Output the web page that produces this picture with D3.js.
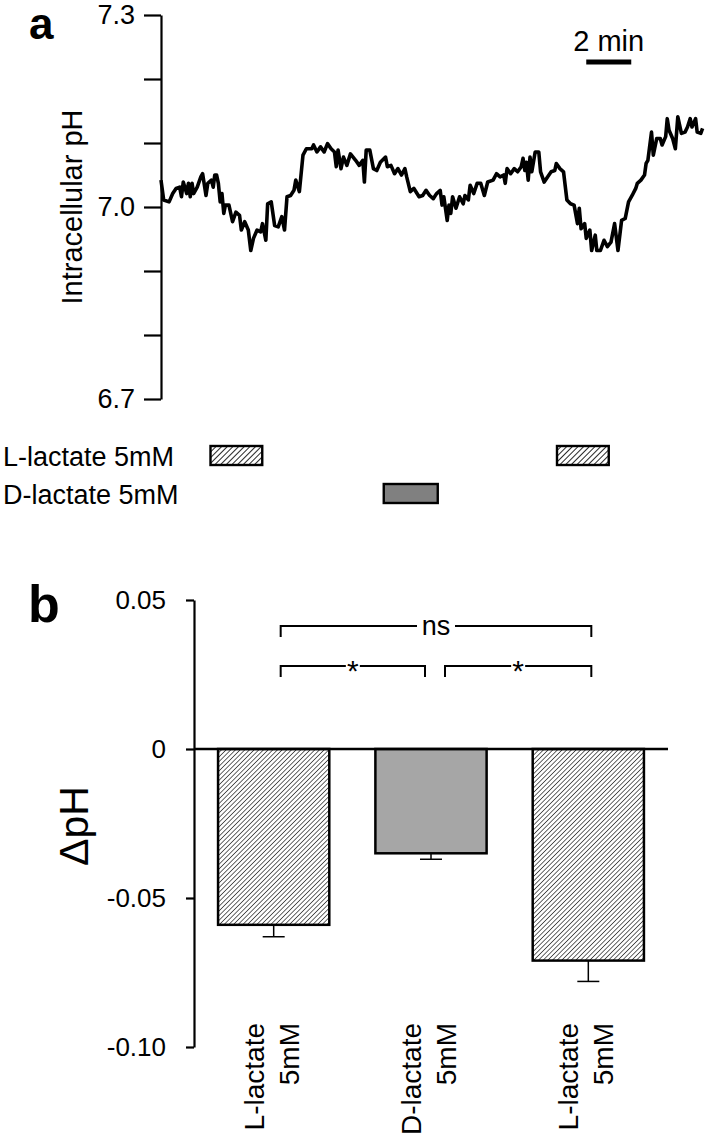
<!DOCTYPE html>
<html>
<head>
<meta charset="utf-8" />
<title>Intracellular pH</title>
<style>
  body { margin: 0; background: #fff; }
  svg { display: block; font-family: "Liberation Sans", Arial, sans-serif; }
</style>
</head>
<body>
<svg width="707" height="1139"></svg>
<script src="https://cdn.jsdelivr.net/npm/d3@7"></script>
<script>

// ---- panel a : pH trace (time in min, pH) ----
var traceTime = [0.00,0.12,0.36,0.52,0.67,0.83,0.91,0.99,1.14,1.22,1.30,1.38,1.45,1.61,1.77,1.85,2.00,2.08,2.24,2.32,
  2.39,2.47,2.55,2.63,2.71,2.79,2.86,3.02,3.18,3.33,3.49,3.57,3.72,3.88,3.99,4.11,4.27,4.43,4.51,4.66,
  4.74,4.90,5.05,5.21,5.37,5.49,5.60,5.76,5.91,5.99,6.15,6.31,6.46,6.70,6.78,6.93,7.09,7.25,7.40,7.56,
  7.71,7.79,7.87,8.00,8.11,8.26,8.42,8.65,8.81,8.97,9.04,9.12,9.28,9.44,9.59,9.75,9.98,10.06,10.22,10.38,
  10.53,10.69,10.84,10.92,11.08,11.24,11.47,11.63,11.78,11.94,12.10,12.25,12.41,12.49,12.57,12.72,12.80,12.88,12.96,13.11,
  13.27,13.43,13.51,13.66,13.74,13.90,14.05,14.21,14.37,14.52,14.76,14.91,15.07,15.23,15.30,15.38,15.54,15.70,15.85,16.01,
  16.09,16.17,16.24,16.32,16.40,16.48,16.63,16.79,16.87,17.03,17.18,17.34,17.50,17.57,17.73,17.89,18.04,18.20,18.36,18.51,
  18.59,18.67,18.83,18.90,19.06,19.14,19.30,19.37,19.53,19.69,19.84,20.00,20.16,20.31,20.47,20.63,20.78,20.94,21.10,21.17,
  21.33,21.49,21.56,21.64,21.80,21.88,22.03,22.19,22.27,22.43,22.50,22.58,22.74,22.86,22.97,23.13,23.29,23.40,23.52,23.60,
  23.76,23.83,23.99,24.07];
var tracePH = [7.042,7.011,7.008,7.021,7.029,7.031,7.016,7.039,7.021,7.037,7.016,7.037,7.021,7.031,7.047,7.052,7.018,7.037,7.042,7.031,
  7.050,7.050,7.037,7.008,7.021,6.990,7.003,7.003,6.977,6.992,6.987,6.964,6.977,6.964,6.932,6.951,6.964,6.961,6.974,6.948,
  7.005,7.008,6.971,6.969,6.985,6.964,7.016,7.018,7.026,7.042,7.024,7.081,7.091,7.091,7.097,7.086,7.094,7.086,7.099,7.091,
  7.086,7.063,7.089,7.060,7.078,7.065,7.083,7.073,7.065,7.073,7.039,7.089,7.089,7.060,7.057,7.070,7.078,7.063,7.065,7.052,
  7.060,7.050,7.060,7.047,7.024,7.029,7.016,7.018,7.026,7.018,7.013,7.021,7.026,7.003,7.016,6.979,7.003,6.990,7.016,6.998,
  7.016,7.005,7.018,7.011,7.034,7.021,7.037,7.037,7.018,7.039,7.042,7.052,7.047,7.050,7.037,7.060,7.052,7.060,7.055,7.063,
  7.076,7.057,7.070,7.042,7.078,7.055,7.086,7.086,7.055,7.039,7.047,7.055,7.057,7.068,7.060,7.055,7.011,7.005,7.003,6.974,
  6.998,6.966,6.974,6.951,6.964,6.932,6.956,6.932,6.932,6.948,6.938,6.945,6.974,6.932,6.979,6.982,7.008,7.018,7.029,7.037,
  7.042,7.050,7.068,7.073,7.117,7.081,7.107,7.107,7.097,7.110,7.138,7.120,7.107,7.091,7.141,7.115,7.117,7.125,7.138,7.125,
  7.138,7.117,7.115,7.123];

var phTicks = [7.3, 7.2, 7.1, 7.0, 6.9, 6.8, 6.7];
var phLabels = { '7.3': '7.3', '7': '7.0', '6.7': '6.7' };
var lLactatePeriods = [[2.2, 4.5], [17.6, 19.9]];
var dLactatePeriods = [[9.9, 12.3]];
var scaleBarMin = 2;

// ---- panel b : delta pH bars ----
var barNames = [['L-lactate', '5mM'], ['D-lactate', '5mM'], ['L-lactate', '5mM']];
var barMeans = [-0.059, -0.035, -0.071];
var barSEM = [0.004, 0.002, 0.007];
var dphTicks = [0.05, 0, -0.05, -0.10];
var dphLabels = ['0.05', '0', '-0.05', '-0.10'];
var comparisons = [[0, 2, 'ns'], [0, 1, '*'], [1, 2, '*']];

var svg = d3.select('svg');

// patterns
var defs = svg.append('defs');
function hatch(id, gap, sw) {
    var p = defs.append('pattern')
        .attr('id', id)
        .attr('patternUnits', 'userSpaceOnUse')
        .attr('width', gap).attr('height', gap)
        .attr('patternTransform', 'rotate(45)');
    p.append('rect').attr('width', gap).attr('height', gap).attr('fill', '#fff');
    p.append('line').attr('x1', 0).attr('y1', 0).attr('x2', 0).attr('y2', gap)
        .attr('stroke', '#000').attr('stroke-width', sw);
}
hatch('hatchBar', 3.3, 1.2);
hatch('hatchBox', 4, 1.7);

// ===== panel a =====
var x = d3.scaleLinear().domain([0, 24]).range([161, 701]);
var y = d3.scaleLinear().domain([6.7, 7.3]).range([399, 15]);

svg.append('text').attr('x', 29).attr('y', 39)
    .attr('font-size', 44).attr('font-weight', 'bold').text('a');

var axA = svg.append('g')
    .attr('transform', 'translate(161,0)')
    .call(d3.axisLeft(y).tickValues(phTicks).tickSize(17).tickSizeOuter(0).tickPadding(9)
        .tickFormat(function (d) { return phLabels[String(+d.toFixed(1))] || ''; }));
axA.select('.domain').attr('stroke-width', 2.2);
axA.selectAll('.tick line').attr('stroke-width', 2.2);
axA.selectAll('text').attr('font-size', 27).attr('font-family', null).attr('fill', '#000');

svg.append('text')
    .attr('transform', 'translate(82,207) rotate(-90)')
    .attr('text-anchor', 'middle').attr('font-size', 29)
    .text('Intracellular pH');

var line = d3.line()
    .x(function (d) { return x(d[0]); })
    .y(function (d) { return y(d[1]); });

svg.append('path')
    .datum(d3.zip(traceTime, tracePH))
    .attr('d', line)
    .attr('fill', 'none').attr('stroke', '#000')
    .attr('stroke-width', 3.6).attr('stroke-linejoin', 'round');

// scale bar
svg.append('line')
    .attr('x1', x(18.9)).attr('x2', x(18.9 + scaleBarMin))
    .attr('y1', 62).attr('y2', 62)
    .attr('stroke', '#000').attr('stroke-width', 5);
svg.append('text').attr('x', x(18.9 + scaleBarMin / 2)).attr('y', 51)
    .attr('text-anchor', 'middle').attr('font-size', 29).text(scaleBarMin + ' min');

// application legend
svg.append('text').attr('x', 3).attr('y', 466).attr('font-size', 27).text('L-lactate 5mM');
svg.append('text').attr('x', 3).attr('y', 504).attr('font-size', 27).text('D-lactate 5mM');

svg.selectAll('rect.lbox').data(lLactatePeriods).enter().append('rect')
    .attr('class', 'lbox')
    .attr('x', function (d) { return x(d[0]); })
    .attr('width', function (d) { return x(d[1]) - x(d[0]); })
    .attr('y', 446).attr('height', 19)
    .attr('fill', 'url(#hatchBox)').attr('stroke', '#000').attr('stroke-width', 2.4);

svg.selectAll('rect.dbox').data(dLactatePeriods).enter().append('rect')
    .attr('class', 'dbox')
    .attr('x', function (d) { return x(d[0]); })
    .attr('width', function (d) { return x(d[1]) - x(d[0]); })
    .attr('y', 484).attr('height', 19)
    .attr('fill', '#808080').attr('stroke', '#000').attr('stroke-width', 2.4);

// ===== panel b =====
var xb = d3.scaleBand().domain(d3.range(barMeans.length))
    .range([194, 668]).paddingInner(0.293).paddingOuter(0.153);
var yb = d3.scaleLinear().domain([-0.10, 0.05]).range([1047, 600]);

svg.append('text').attr('x', 28).attr('y', 622)
    .attr('font-size', 52).attr('font-weight', 'bold').text('b');

var axB = svg.append('g')
    .attr('transform', 'translate(194,0)')
    .call(d3.axisLeft(yb).tickValues(dphTicks).tickSize(8).tickSizeOuter(0).tickPadding(20)
        .tickFormat(function (d, i) { return dphLabels[i]; }));
axB.select('.domain').attr('stroke-width', 2.2);
axB.selectAll('.tick line').attr('stroke-width', 2.2);
axB.selectAll('text').attr('font-size', 26).attr('font-family', null).attr('fill', '#000');

svg.append('text')
    .attr('transform', 'translate(88,826) rotate(-90)')
    .attr('text-anchor', 'middle').attr('font-size', 41)
    .text('\u0394pH');

var bars = svg.selectAll('g.bar').data(barMeans).enter().append('g').attr('class', 'bar');

bars.append('rect')
    .attr('x', function (d, i) { return xb(i); })
    .attr('width', xb.bandwidth())
    .attr('y', yb(0))
    .attr('height', function (d) { return yb(d) - yb(0); })
    .attr('fill', function (d, i) { return i === 1 ? '#a6a6a6' : 'url(#hatchBar)'; })
    .attr('stroke', '#000').attr('stroke-width', 2.5);

// error bars (downward)
bars.append('line')
    .attr('x1', function (d, i) { return xb(i) + xb.bandwidth() / 2; })
    .attr('x2', function (d, i) { return xb(i) + xb.bandwidth() / 2; })
    .attr('y1', function (d) { return yb(d); })
    .attr('y2', function (d, i) { return yb(d - barSEM[i]); })
    .attr('stroke', '#000').attr('stroke-width', 1.5);
bars.append('line')
    .attr('x1', function (d, i) { return xb(i) + xb.bandwidth() / 2 - 11; })
    .attr('x2', function (d, i) { return xb(i) + xb.bandwidth() / 2 + 11; })
    .attr('y1', function (d, i) { return yb(d - barSEM[i]); })
    .attr('y2', function (d, i) { return yb(d - barSEM[i]); })
    .attr('stroke', '#000').attr('stroke-width', 1.5);

// zero line
svg.append('line')
    .attr('x1', 194).attr('x2', 668)
    .attr('y1', yb(0)).attr('y2', yb(0))
    .attr('stroke', '#000').attr('stroke-width', 2.5);

// category labels
bars.each(function (d, i) {
    var cx = xb(i) + xb.bandwidth() / 2;
    var t = d3.select(this).append('text')
        .attr('transform', 'translate(' + (cx - 10) + ',1023) rotate(-90)')
        .attr('text-anchor', 'end').attr('font-size', 28);
    t.append('tspan').attr('x', 0).attr('y', 0).text(barNames[i][0]);
    t.append('tspan').attr('x', 0).attr('y', 35).text(barNames[i][1]);
});

// significance brackets
function cx(i) { return xb(i) + xb.bandwidth() / 2; }
var brY = [626, 666];
comparisons.forEach(function (c) {
    var level = c[2] === 'ns' ? 0 : 1;
    var x1 = cx(c[0]) + (c[0] === 1 ? 14 : 7);
    var x2 = cx(c[1]) + (c[1] === 1 ? -6 : 3);
    var yy = brY[level];
    var mid = (x1 + x2) / 2;
    var gap = c[2] === 'ns' ? 19 : 7;
    var g = svg.append('g').attr('fill', 'none').attr('stroke', '#000').attr('stroke-width', 2);
    g.append('path').attr('d', 'M' + x1 + ',' + (yy + 11) + 'V' + yy + 'H' + (mid - gap));
    g.append('path').attr('d', 'M' + (mid + gap) + ',' + yy + 'H' + x2 + 'V' + (yy + 11));
    svg.append('text').attr('x', mid).attr('y', c[2] === 'ns' ? yy + 9 : yy + 15)
        .attr('text-anchor', 'middle').attr('font-size', c[2] === 'ns' ? 27 : 30)
        .text(c[2]);
});
</script>
</body>
</html>
